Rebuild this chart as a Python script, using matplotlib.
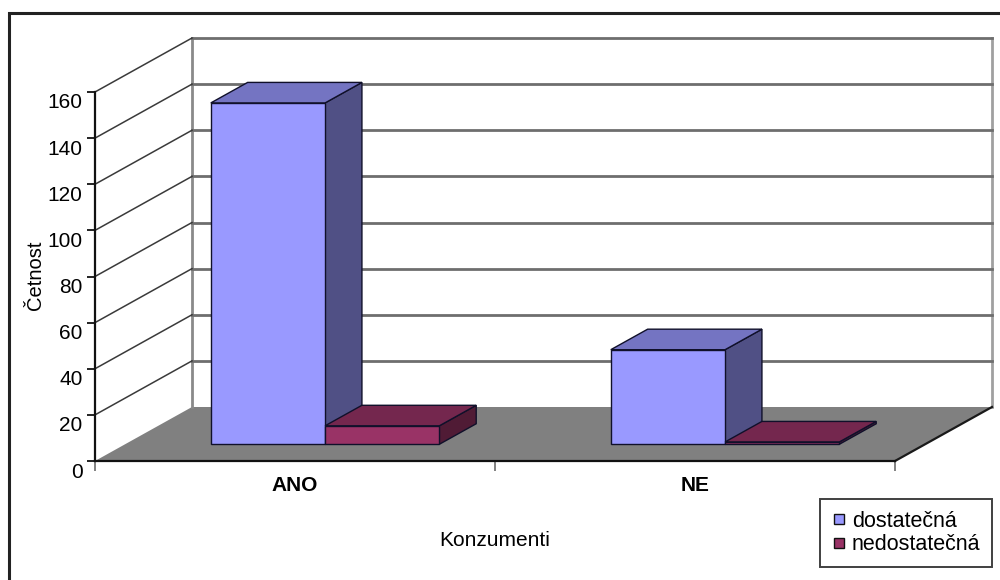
import matplotlib
matplotlib.use("Agg")
import matplotlib.pyplot as plt
from matplotlib.patches import Polygon, Rectangle
from matplotlib.lines import Line2D
from matplotlib.transforms import ScaledTranslation
import numpy as np

plt.rcParams['font.family'] = ['Liberation Sans', 'DejaVu Sans']

# --- data ---
categories = ['ANO', 'NE']
series_names = ['dostatečná', 'nedostatečná']
dostatecna = [148, 41]
nedostatecna = [8, 1]
y_ticks = [0, 20, 40, 60, 80, 100, 120, 140, 160]
x_label = 'Konzumenti'
y_label = 'Četnost'

series_values = [dostatecna, nedostatecna]
front_colors = ['#9999FF', '#993366']

def shade(hex_color, k):
    c = np.array(matplotlib.colors.to_rgb(hex_color))
    return tuple(c * k)

# --- figure / axes: data units mapped onto the whole canvas ---
W, H, DPI = 1000, 580, 100
fig = plt.figure(figsize=(W / DPI, H / DPI), dpi=DPI)
ax = fig.add_axes([0, 0, 1, 1])
ax.set_facecolor('none')

x0p, xsc = 95.0, 400.0          # pixel of x=0, pixels per category
y0p, ysc = 461.0, 369.0 / 160   # pixel of y=0, pixels per unit
ax.set_xlim((0 - x0p) / xsc, (W - x0p) / xsc)
ax.set_ylim((y0p - H) / ysc, y0p / ysc)

DX = 97.0 / xsc   # depth vector (x part) in data units
DY = 54.0 / ysc   # depth vector (y part) in data units
n_cat = len(categories)
y_max = y_ticks[-1]

def proj(x, v, d):
    return (x + d * DX, v + d * DY)

# outer chart border
fig.patches.append(Rectangle((9 / W, 0 - 0.05), 1.2, 1 - 13 / H + 0.05,
                             transform=fig.transFigure, fill=False,
                             edgecolor='#222222', lw=2.2, zorder=0))

# floor
floor = Polygon([proj(0, 0, 0), proj(n_cat, 0, 0), proj(n_cat, 0, 1), proj(0, 0, 1)],
                closed=True, facecolor='#808080', edgecolor='none', zorder=1)
ax.add_patch(floor)
ax.plot(*zip(proj(n_cat, 0, 0), proj(n_cat, 0, 1)), color='#1a1a1a', lw=1.6, zorder=2)

# back wall edges and gridlines
ax.plot(*zip(proj(0, 0, 1), proj(0, y_max, 1)), color='#8a8a8a', lw=2, zorder=1)
ax.plot(*zip(proj(n_cat, 0, 1), proj(n_cat, y_max, 1)), color='#a0a0a0', lw=2, zorder=1)
for v in y_ticks[1:]:
    ax.plot(*zip(proj(0, v, 1), proj(n_cat, v, 1)), color='#6e6e6e', lw=2, zorder=1)
# side wall lines
for v in y_ticks[1:]:
    ax.plot(*zip(proj(0, v, 0), proj(0, v, 1)), color='#3a3a3a', lw=1.1, zorder=1)

# bars
bar_w = 1 / 3.5
d_front, d_back = 0.31, 0.69
edge = '#10102a'
for i in range(n_cat):
    for j, vals in enumerate(series_values):
        v = vals[i]
        xl = i + 0.5 - bar_w + j * bar_w
        xr = xl + bar_w
        fc = front_colors[j]
        side = [proj(xr, 0, d_front), proj(xr, 0, d_back), proj(xr, v, d_back), proj(xr, v, d_front)]
        top = [proj(xl, v, d_front), proj(xr, v, d_front), proj(xr, v, d_back), proj(xl, v, d_back)]
        front = [proj(xl, 0, d_front), proj(xr, 0, d_front), proj(xr, v, d_front), proj(xl, v, d_front)]
        z = 3 + j
        ax.add_patch(Polygon(side, closed=True, facecolor=shade(fc, 0.52), edgecolor=edge, lw=1, zorder=z))
        ax.add_patch(Polygon(top, closed=True, facecolor=shade(fc, 0.76), edgecolor=edge, lw=1, zorder=z))
        ax.add_patch(Polygon(front, closed=True, facecolor=fc, edgecolor=edge, lw=1, zorder=z))

# axes spines and ticks
for s in ['top', 'right']:
    ax.spines[s].set_visible(False)
ax.spines['left'].set_position(('data', 0))
ax.spines['left'].set_bounds(0, y_max)
ax.spines['bottom'].set_position(('data', 0))
ax.spines['bottom'].set_bounds(0, n_cat)
for s in ['left', 'bottom']:
    ax.spines[s].set_color('#111111')
    ax.spines[s].set_linewidth(1.6)
    ax.spines[s].set_zorder(6)

ax.set_yticks(y_ticks)
ax.set_yticklabels([str(t) for t in y_ticks])
ax.tick_params(axis='y', direction='out', length=6, width=1.3, color='#111111',
               pad=3, labelsize=15)
off = ScaledTranslation(0, -9 / DPI, fig.dpi_scale_trans)
for lab in ax.get_yticklabels():
    lab.set_transform(lab.get_transform() + off)

ax.set_xticks(np.arange(n_cat + 1))
ax.set_xticklabels([])
ax.tick_params(axis='x', which='major', direction='out', length=7, width=1.3, color='#777777')
ax.set_xticks(np.arange(n_cat) + 0.5, minor=True)
ax.set_xticklabels(categories, minor=True, fontweight='bold')
ax.tick_params(axis='x', which='minor', length=0, pad=11, labelsize=15)

# axis titles
fig.text(35 / W, 1 - 275 / H, y_label, rotation=90, ha='center', va='center', fontsize=14.5)
fig.text(495 / W, 1 - 541 / H, x_label, ha='center', va='center', fontsize=15)

# legend
handles = [Line2D([], [], marker='s', linestyle='none', markersize=7,
                  markerfacecolor=c, markeredgecolor='#111111', markeredgewidth=1)
           for c in front_colors]
leg = fig.legend(handles, series_names, loc='lower right',
                 bbox_to_anchor=(992 / W, 1 - 567 / H), bbox_transform=fig.transFigure,
                 frameon=True, fancybox=False, shadow=False, fontsize=15.5,
                 handlelength=0.6, handletextpad=0.3, labelspacing=0.1,
                 borderpad=0.55, borderaxespad=0)
leg.get_frame().set_edgecolor('#111111')
leg.get_frame().set_linewidth(1.4)

fig.savefig('out.png', dpi=DPI)
